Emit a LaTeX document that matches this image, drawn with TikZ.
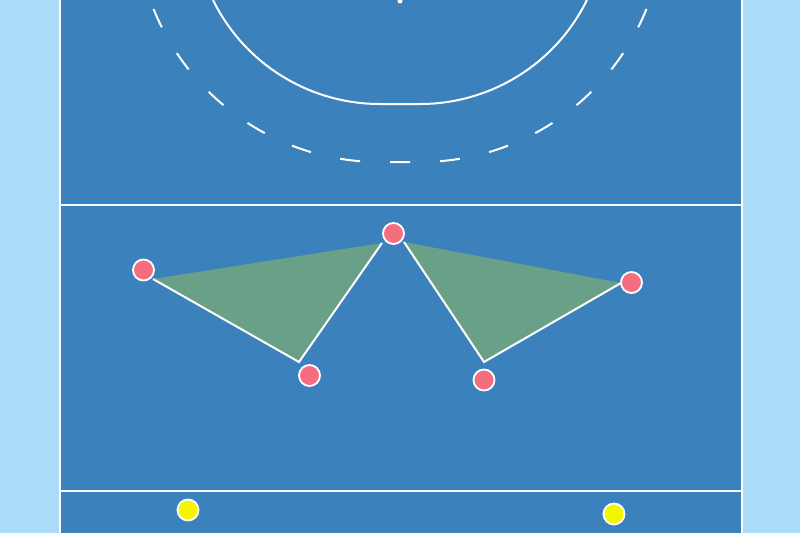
\documentclass[tikz,border=0pt]{standalone}
\begin{document}
\begin{tikzpicture}[x=1pt,y=-1pt,
  fieldline/.style={draw=white,line width=2pt},
  dline/.style={draw=white,line width=2pt,dash pattern=on 20pt off 30pt,dash phase=10pt},
  zone/.style={fill=zonegreen,draw=none},
  pass/.style={draw=white,line width=2pt},
  attacker/.style={circle,fill=pinkdot,draw=white,line width=1.8pt,minimum size=21pt,inner sep=0pt},
  defender/.style={circle,fill=yellowdot,draw=white,line width=1.8pt,minimum size=21pt,inner sep=0pt}]
\definecolor{fieldblue}{RGB}{59,130,189}
\definecolor{sideblue}{RGB}{170,220,250}
\definecolor{pinkdot}{RGB}{245,110,128}
\definecolor{yellowdot}{RGB}{245,245,0}
\definecolor{zonegreen}{RGB}{106,160,136}
\useasboundingbox (0,0) rectangle (800,533);
\begin{scope}
\clip (0,0) rectangle (800,533);
\fill[sideblue] (0,0) rectangle (800,533);
\fill[fieldblue] (60,0) rectangle (742,533);
% boundary lines
\draw[fieldline] (60,0) -- (60,533);
\draw[fieldline] (742,0) -- (742,533);
\draw[fieldline] (60,205) -- (742,205);
\draw[fieldline] (60,491) -- (742,491);
% shooting circle
\draw[fieldline] (213,0) arc[start angle=153.84,end angle=90,radius=186] -- (420,104) arc[start angle=90,end angle=26.16,radius=186];
% dashed circle
\draw[dline] (400,162) -- (380,162) arc[start angle=90,end angle=180,radius=244];
\draw[dline] (400,162) -- (420,162) arc[start angle=90,end angle=0,radius=244];
% spot
\fill[white] (400,1) circle (2.5);
\end{scope}
% triangle vertices
\coordinate (l1) at (153,279);
\coordinate (l2) at (299,362);
\coordinate (l3) at (382,243);
\coordinate (r1) at (404,242);
\coordinate (r2) at (484,362);
\coordinate (r3) at (621,283);
\path[zone] (l1) -- (l2) -- (l3) -- cycle;
\path[zone] (r1) -- (r2) -- (r3) -- cycle;
\draw[pass] (l1) -- (l2) -- (l3);
\draw[pass] (r1) -- (r2) -- (r3);
% players
\node[attacker] (p1) at (143.5,270) {};
\node[attacker] (p2) at (393.5,233.5) {};
\node[attacker] (p3) at (309.5,375.5) {};
\node[attacker] (p4) at (631.5,282.5) {};
\node[attacker] (p5) at (484,380) {};
\node[defender] (d1) at (188,510) {};
\node[defender] (d2) at (614,514) {};
\end{tikzpicture}
\end{document}
